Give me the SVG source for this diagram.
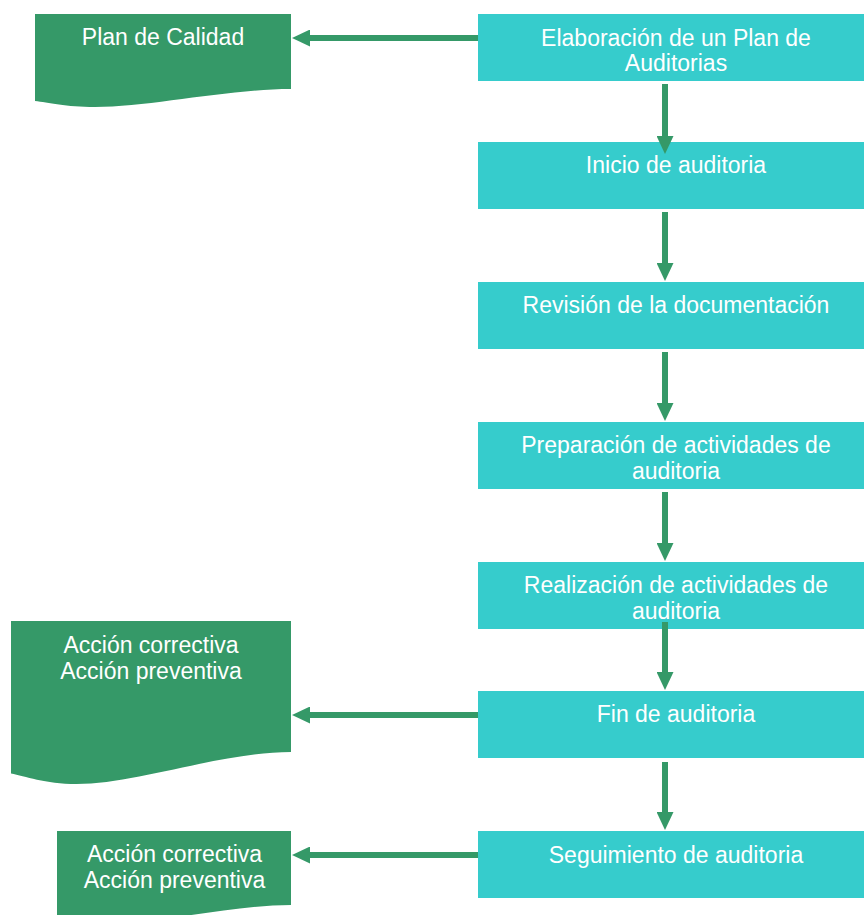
<svg xmlns="http://www.w3.org/2000/svg" width="864" height="915" viewBox="0 0 864 915">
  <style>
    .step { fill: #36CCCC; }
    .doc { fill: #359968; }
    .label { font-family: "Liberation Sans", Arial, sans-serif; font-size: 23px; fill: #FFFFFF; text-anchor: middle; }
    .conn { stroke: #359968; stroke-width: 6; fill: none; marker-end: url(#head); }
  </style>
  <defs>
    <marker id="head" markerUnits="userSpaceOnUse" markerWidth="18" markerHeight="17" refX="2" refY="8.5" orient="auto">
      <path d="M0,0 L18,8.5 L0,17 Z" fill="#359968"/>
    </marker>
  </defs>
  <rect width="864" height="915" fill="#FFFFFF"/>

  <!-- process steps -->
  <g id="elaboracion">
    <rect class="step" x="478" y="14" width="386" height="67"/>
    <text class="label" x="676" y="45.5">Elaboración de un Plan de</text>
    <text class="label" x="676" y="71">Auditorias</text>
  </g>
  <g id="inicio">
    <rect class="step" x="478" y="142" width="386" height="67"/>
    <text class="label" x="676" y="173">Inicio de auditoria</text>
  </g>
  <g id="revision">
    <rect class="step" x="478" y="282" width="386" height="67"/>
    <text class="label" x="676" y="312.5">Revisión de la documentación</text>
  </g>
  <g id="preparacion">
    <rect class="step" x="478" y="422" width="386" height="67"/>
    <text class="label" x="676" y="452.5">Preparación de actividades de</text>
    <text class="label" x="676" y="478.5">auditoria</text>
  </g>
  <g id="realizacion">
    <rect class="step" x="478" y="562" width="386" height="67"/>
    <text class="label" x="676" y="592.5">Realización de actividades de</text>
    <text class="label" x="676" y="618.5">auditoria</text>
  </g>
  <g id="fin">
    <rect class="step" x="478" y="691" width="386" height="67"/>
    <text class="label" x="676" y="722">Fin de auditoria</text>
  </g>
  <g id="seguimiento">
    <rect class="step" x="478" y="831" width="386" height="67"/>
    <text class="label" x="676" y="863">Seguimiento de auditoria</text>
  </g>

  <!-- documents -->
  <g id="plan-calidad">
    <path class="doc" d="M35,14 H291 V89 C227,89 150,107 95,107 C66,107 48,102.5 35,101 Z"/>
    <text class="label" x="163" y="45">Plan de Calidad</text>
  </g>
  <g id="acciones-fin">
    <path class="doc" d="M11,621 H291 V752 C221,752 137,784 76.5,784 C44.6,784 25,776 11,773.5 Z"/>
    <text class="label" x="151" y="652.5">Acción correctiva</text>
    <text class="label" x="151" y="678.5">Acción preventiva</text>
  </g>
  <g id="acciones-seguimiento">
    <path class="doc" d="M57,831 H291 V905 C232.5,905 162,923 112,923 C85,923 69,918 57,917 Z"/>
    <text class="label" x="174.5" y="862">Acción correctiva</text>
    <text class="label" x="174.5" y="888">Acción preventiva</text>
  </g>

  <!-- connectors -->
  <g id="connectors">
    <path class="conn" d="M665,84 V138"/>
    <path class="conn" d="M665,212 V265"/>
    <path class="conn" d="M665,352 V405"/>
    <path class="conn" d="M665,492 V545"/>
    <path class="conn" d="M665,622 V674"/>
    <path class="conn" d="M665,762 V814"/>
    <path class="conn" d="M478,38 H308"/>
    <path class="conn" d="M478,715 H308"/>
    <path class="conn" d="M478,855 H308"/>
  </g>
</svg>
